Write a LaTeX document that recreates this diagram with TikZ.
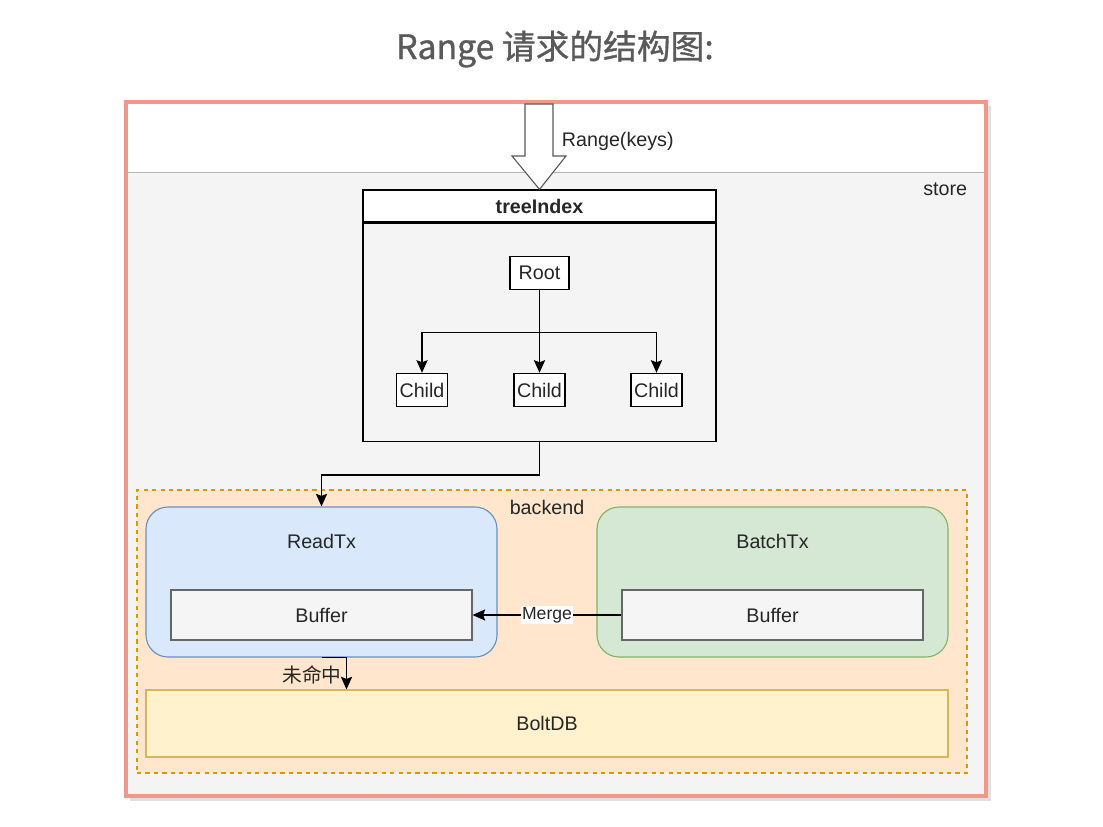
\documentclass[tikz,border=0pt]{standalone}
\usepackage{fontspec}
\setmainfont{Liberation Sans}
\newfontfamily\cjk{Noto Sans CJK SC}
\newfontfamily\cjktitle[FakeBold=0.9]{Noto Sans CJK SC}
\usetikzlibrary{positioning,arrows.meta}

\definecolor{framesalmon}{HTML}{F0988A}
\definecolor{storegray}{HTML}{F4F4F4}
\definecolor{bandline}{HTML}{B8B8B8}
\definecolor{titlegray}{HTML}{5A5A5A}
\definecolor{backfill}{HTML}{FFE6CC}
\definecolor{backline}{HTML}{D79B00}
\definecolor{readfill}{HTML}{DAE8FC}
\definecolor{readline}{HTML}{6C8EBF}
\definecolor{batchfill}{HTML}{D5E8D4}
\definecolor{batchline}{HTML}{82B366}
\definecolor{buffill}{HTML}{F5F5F5}
\definecolor{bufline}{HTML}{666666}
\definecolor{boltfill}{HTML}{FFF2CC}
\definecolor{boltline}{HTML}{D6B656}
\definecolor{inktext}{HTML}{262626}

\def\pxu{0.025cm}

\tikzset{
  treebox/.style={draw, fill=white, line width=1pt, inner sep=1pt, minimum height=33*\pxu},
  txbox/.style={rounded corners=22*\pxu, line width=0.8pt, minimum width=351*\pxu, minimum height=150*\pxu},
  bufbox/.style={draw=bufline, fill=buffill, line width=0.8pt, minimum width=301*\pxu, minimum height=50*\pxu, text=inktext},
  arr/.style={-{Stealth[length=9pt,width=8pt,inset=1.5pt]}, line width=0.9pt}
}

\begin{document}
\begin{tikzpicture}[x=0.025cm, y=-0.025cm, font=\fontsize{14}{16}\selectfont, text=inktext]
\useasboundingbox (0,0) rectangle (1103,827);

% Title
\node[text=titlegray, font=\cjktitle\fontsize{24}{28}\selectfont] (title) at (555,49) {Range 请求的结构图:};

% Store frame
\fill[black, opacity=0.12] (130,106) rectangle (991,801);
\draw[framesalmon, line width=2.8pt, fill=white] (126,102) rectangle (986,796);
\fill[storegray] (128,172) rectangle (984,794);
\draw[bandline, line width=0.6pt] (128,172) -- (984,172);
\node[anchor=east] (storelbl) at (972,189) {store};

% treeIndex
\node[draw, fill=white, line width=0.9pt, minimum width=353*\pxu, minimum height=32*\pxu, font=\fontsize{14}{16}\selectfont\bfseries] (tree) at (539.5,206) {treeIndex};
\node[draw, fill=storegray, line width=0.9pt, minimum width=353*\pxu, minimum height=218*\pxu, anchor=north] (treebody) at (tree.south) {};
\node[treebox, minimum width=59*\pxu] (root) at (539.5,273) {Root};
\node[treebox, minimum width=51*\pxu] (childa) at (422,390) {Child};
\node[treebox, minimum width=51*\pxu] (childb) at (539.5,390) {Child};
\node[treebox, minimum width=51*\pxu] (childc) at (656.5,390) {Child};
\draw[arr] (root.south) -- (childb.north);
\draw[arr] (root.south) -- ++(0,42) -| (childa.north);
\draw[arr] (root.south) -- ++(0,42) -| (childc.north);

% Range request arrow
\draw[black!65, fill=white, line width=0.8pt] (525,104) -- (553,104) -- (553,156) -- (566,156)
  -- (tree.north) -- (512,156) -- (525,156) -- cycle;
\node[anchor=west] (rangelbl) at (557,141) {Range(keys)};

% backend
\node[draw=backline, dashed, fill=backfill, line width=0.8pt, minimum width=830*\pxu, minimum height=283*\pxu] (backend) at (552,631.5) {};
\node (backlbl) at (547,507) {backend};

\node[txbox, draw=readline, fill=readfill] (readtx) at (321.5,582) {};
\node (readlbl) at (321.5,541) {ReadTx};
\node[bufbox] (bufread) at (321.5,615) {Buffer};

\node[txbox, draw=batchline, fill=batchfill] (batchtx) at (772.5,582) {};
\node (batchlbl) at (772.5,541) {BatchTx};
\node[bufbox] (bufbatch) at (772.5,615) {Buffer};

\node[draw=boltline, fill=boltfill, line width=0.8pt, minimum width=802*\pxu, minimum height=67*\pxu] (boltdb) at (547,723.5) {BoltDB};

% Connectors
\draw[arr] (treebody.south) -- ++(0,33) -| (readtx.north);
\draw[arr] (bufbatch.west) -- node[fill=white, inner sep=1pt, font=\fontsize{12.5}{14}\selectfont] (mergelbl) {Merge} (bufread.east);
\draw[arr] (readtx.south) -- ++(25,0) coordinate (miss) -- (miss |- boltdb.north);
\node[font=\cjk\fontsize{14}{16}\selectfont] (misslbl) at (312,675) {未命中};
\end{tikzpicture}
\end{document}
